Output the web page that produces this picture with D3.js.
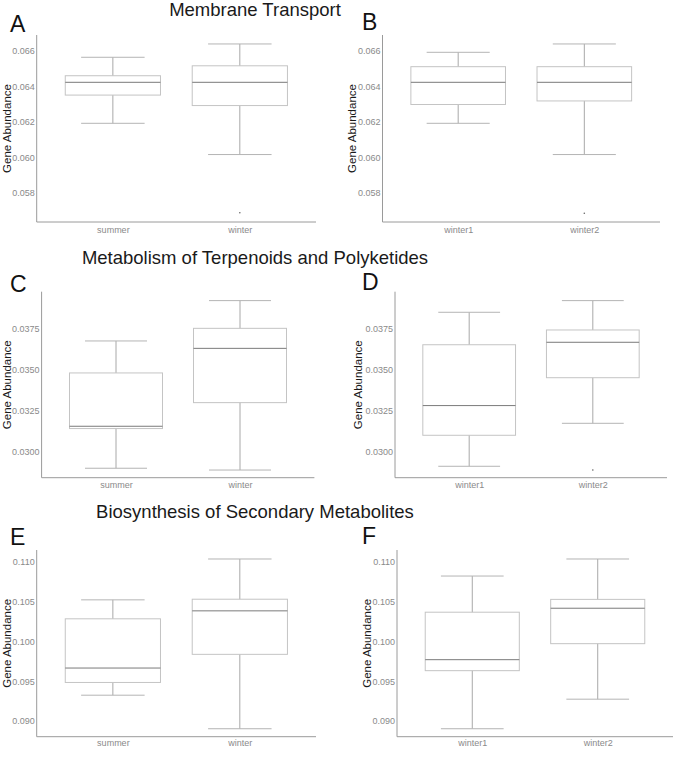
<!DOCTYPE html>
<html>
<head>
<meta charset="utf-8">
<script src="https://cdn.jsdelivr.net/npm/d3@7"></script>
<style>
  html, body { margin: 0; padding: 0; background: #fff; }
  svg { display: block; font-family: "Liberation Sans", Arial, sans-serif; }
</style>
</head>
<body>
<svg id="chart" width="677" height="760"></svg>
<script>
// ---------- data ----------
const seasonGroups = ["summer", "winter"];
const winterGroups = ["winter1", "winter2"];

// box stats: [lower whisker, Q1, median, Q3, upper whisker]
const membraneSummer = [0.06191, 0.06350, 0.06422, 0.06459, 0.06563];
const membraneWinter = [0.06015, 0.06291, 0.06422, 0.06515, 0.06638];
const membraneWinter1 = [0.06191, 0.06297, 0.06422, 0.06510, 0.06591];
const membraneWinter2 = [0.06015, 0.06317, 0.06422, 0.06510, 0.06638];

const terpSummer = [0.02901, 0.03143, 0.03157, 0.03482, 0.03677];
const terpWinter = [0.02890, 0.03301, 0.03632, 0.03754, 0.03923];
const terpWinter1 = [0.02913, 0.03102, 0.03283, 0.03654, 0.03852];
const terpWinter2 = [0.03175, 0.03453, 0.03669, 0.03744, 0.03923];

const bioSummer = [0.09324, 0.09484, 0.09665, 0.10283, 0.10521];
const bioWinter = [0.08903, 0.09837, 0.10383, 0.10529, 0.11034];
const bioWinter1 = [0.08903, 0.09632, 0.09770, 0.10366, 0.10820];
const bioWinter2 = [0.09274, 0.09971, 0.10416, 0.10527, 0.11034];

// outliers per group
const membraneOutliersA = [[], [0.05687]];
const membraneOutliersB = [[], [0.05684]];
const terpOutliersC = [[], []];
const terpOutliersD = [[], [0.02890]];
const bioOutliersE = [[], []];
const bioOutliersF = [[], []];

// tick values
const membraneTicks = [0.058, 0.060, 0.062, 0.064, 0.066];
const terpTicks = [0.0300, 0.0325, 0.0350, 0.0375];
const bioTicks = [0.090, 0.095, 0.100, 0.105, 0.110];

const titles = ["Membrane Transport", "Metabolism of Terpenoids and Polyketides", "Biosynthesis of Secondary Metabolites"];
const panelLetters = ["A", "B", "C", "D", "E", "F"];

// ---------- layout ----------
const svg = d3.select("#chart");

const panels = [
  { letter: panelLetters[0], lx: 10, ly: 31.5, groups: seasonGroups, stats: [membraneSummer, membraneWinter], out: membraneOutliersA,
    left: 36.7, right: 316, top: 35, bottom: 222, ydom: [0.05635, 0.066885], ticks: membraneTicks, fmt: ".3f", ytx: 7, xlab: 232.5 },
  { letter: panelLetters[1], lx: 362, ly: 30, groups: winterGroups, stats: [membraneWinter1, membraneWinter2], out: membraneOutliersB,
    left: 382.5, right: 660, top: 35, bottom: 222, ydom: [0.05635, 0.066885], ticks: membraneTicks, fmt: ".3f", ytx: 352, xlab: 232.5 },
  { letter: panelLetters[2], lx: 10, ly: 291.5, groups: seasonGroups, stats: [terpSummer, terpWinter], out: terpOutliersC,
    left: 41.6, right: 314.4, top: 291.7, bottom: 477.7, ydom: [0.028433, 0.039774], ticks: terpTicks, fmt: ".4f", ytx: 6.5, xlab: 488.5 },
  { letter: panelLetters[3], lx: 362, ly: 290, groups: winterGroups, stats: [terpWinter1, terpWinter2], out: terpOutliersD,
    left: 395, right: 667, top: 291.7, bottom: 477.7, ydom: [0.028433, 0.039774], ticks: terpTicks, fmt: ".4f", ytx: 357.5, xlab: 488.5 },
  { letter: panelLetters[4], lx: 10, ly: 545, groups: seasonGroups, stats: [bioSummer, bioWinter], out: bioOutliersE,
    left: 36.7, right: 316, top: 550, bottom: 736.7, ydom: [0.08803, 0.111469], ticks: bioTicks, fmt: ".3f", ytx: 6.5, xlab: 746.5 },
  { letter: panelLetters[5], lx: 362, ly: 544, groups: winterGroups, stats: [bioWinter1, bioWinter2], out: bioOutliersF,
    left: 397, right: 673, top: 550, bottom: 736.7, ydom: [0.08803, 0.111469], ticks: bioTicks, fmt: ".3f", ytx: 366.5, xlab: 746.5 }
];

const titleY = [16, 264, 518];
titles.forEach((t, i) => {
  svg.append("text").attr("x", 255).attr("y", titleY[i])
    .attr("text-anchor", "middle").attr("font-size", 18.5).attr("fill", "#1a1a1a").text(t);
});

panels.forEach(p => {
  const g = svg.append("g");
  const x = d3.scalePoint().domain(p.groups).range([p.left, p.right]).padding(0.6);
  const step = x.step();
  const y = d3.scaleLinear().domain(p.ydom).range([p.bottom, p.top]);

  // letter
  g.append("text").attr("x", p.lx).attr("y", p.ly).attr("font-size", 23).attr("fill", "#111").text(p.letter);

  // y axis
  const ya = g.append("g").attr("transform", `translate(${p.left},0)`)
    .call(d3.axisLeft(y).tickValues(p.ticks).tickFormat(d3.format(p.fmt)).tickSize(0).tickPadding(2));
  ya.select(".domain").attr("stroke", "#9a9a9a").attr("d", `M0,${p.top}V${p.bottom}`);
  ya.selectAll("text").attr("fill", "#8a8a8a").attr("font-size", 9).attr("font-family", "Liberation Sans, Arial, sans-serif");

  // x axis
  const xa = g.append("g").attr("transform", `translate(0,${p.bottom})`)
    .call(d3.axisBottom(x).tickSize(0).tickPadding(0));
  xa.select(".domain").attr("stroke", "#9a9a9a").attr("d", `M${p.left},0H${p.right}`);
  xa.selectAll("text").attr("fill", "#8a8a8a").attr("font-size", 9).attr("font-family", "Liberation Sans, Arial, sans-serif")
    .attr("dy", null).attr("y", p.xlab - p.bottom);

  // y title
  g.append("text").attr("transform", `translate(${p.ytx},${(p.top + p.bottom) / 2}) rotate(-90)`)
    .attr("text-anchor", "middle").attr("dominant-baseline", "central")
    .attr("font-size", 11.5).attr("fill", "#1a1a1a").text("Gene Abundance");

  // boxes
  const boxW = step * 0.75, capW = step * 0.5;
  p.groups.forEach((grp, i) => {
    const s = p.stats[i];
    const cx = x(grp);
    const bg = g.append("g");
    // whiskers
    bg.append("line").attr("x1", cx).attr("x2", cx).attr("y1", y(s[0])).attr("y2", y(s[1])).attr("stroke", "#a8a8a8");
    bg.append("line").attr("x1", cx).attr("x2", cx).attr("y1", y(s[3])).attr("y2", y(s[4])).attr("stroke", "#a8a8a8");
    bg.append("line").attr("x1", cx - capW / 2).attr("x2", cx + capW / 2).attr("y1", y(s[0])).attr("y2", y(s[0])).attr("stroke", "#b4b4b4");
    bg.append("line").attr("x1", cx - capW / 2).attr("x2", cx + capW / 2).attr("y1", y(s[4])).attr("y2", y(s[4])).attr("stroke", "#b4b4b4");
    // box
    bg.append("rect").attr("x", cx - boxW / 2).attr("width", boxW)
      .attr("y", y(s[3])).attr("height", y(s[1]) - y(s[3]))
      .attr("fill", "none").attr("stroke", "#c4c4c4");
    // median
    bg.append("line").attr("x1", cx - boxW / 2).attr("x2", cx + boxW / 2).attr("y1", y(s[2])).attr("y2", y(s[2])).attr("stroke", "#7a7a7a");
    // outliers
    p.out[i].forEach(v => {
      bg.append("circle").attr("cx", cx).attr("cy", y(v)).attr("r", 0.8).attr("fill", "#666");
    });
  });
});
</script>
</body>
</html>
